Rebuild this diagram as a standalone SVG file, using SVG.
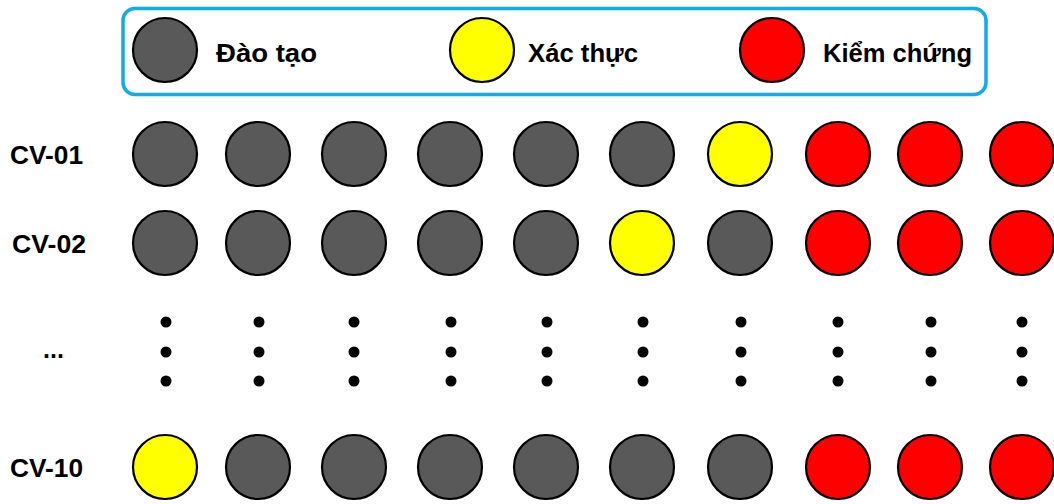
<svg xmlns="http://www.w3.org/2000/svg" width="1054" height="504" viewBox="0 0 1054 504">
<style>
.c{stroke:#000;stroke-width:2.2}
.g{fill:#595959}
.y{fill:#FFFF00}
.r{fill:#FF0000}
.d{fill:#000}
.t{font-family:"Liberation Sans",Arial,sans-serif;font-weight:bold;font-size:25px;fill:#000}
</style>
<rect width="1054" height="504" fill="#fff"/>
<g id="legend">
<rect x="123" y="8.5" width="863" height="86" rx="12" fill="#fff" stroke="#12ABE9" stroke-width="3.5"/>
<circle class="c g" cx="165" cy="50" r="32"/>
<text class="t" x="216" y="62" textLength="101" lengthAdjust="spacingAndGlyphs">Đào tạo</text>
<circle class="c y" cx="482" cy="50" r="32"/>
<text class="t" x="528" y="62" textLength="110" lengthAdjust="spacingAndGlyphs">Xác thực</text>
<circle class="c r" cx="772" cy="50" r="32"/>
<text class="t" x="823" y="62" textLength="149" lengthAdjust="spacingAndGlyphs">Kiểm chứng</text>
</g>
<g id="row-cv01">
<text class="t" x="10" y="164" textLength="73" lengthAdjust="spacingAndGlyphs">CV-01</text>
<circle class="c g" cx="165" cy="154" r="32"/>
<circle class="c g" cx="258" cy="154" r="32"/>
<circle class="c g" cx="354" cy="154" r="32"/>
<circle class="c g" cx="450" cy="154" r="32"/>
<circle class="c g" cx="546" cy="154" r="32"/>
<circle class="c g" cx="642" cy="154" r="32"/>
<circle class="c y" cx="740" cy="154" r="32"/>
<circle class="c r" cx="838" cy="154" r="32"/>
<circle class="c r" cx="930" cy="154" r="32"/>
<circle class="c r" cx="1022" cy="154" r="32"/>
</g>
<g id="row-cv02">
<text class="t" x="12" y="253" textLength="74" lengthAdjust="spacingAndGlyphs">CV-02</text>
<circle class="c g" cx="165" cy="243" r="32"/>
<circle class="c g" cx="258" cy="243" r="32"/>
<circle class="c g" cx="354" cy="243" r="32"/>
<circle class="c g" cx="450" cy="243" r="32"/>
<circle class="c g" cx="546" cy="243" r="32"/>
<circle class="c y" cx="642" cy="243" r="32"/>
<circle class="c g" cx="740" cy="243" r="32"/>
<circle class="c r" cx="838" cy="243" r="32"/>
<circle class="c r" cx="930" cy="243" r="32"/>
<circle class="c r" cx="1022" cy="243" r="32"/>
</g>
<g id="row-ellipsis">
<text class="t" x="43" y="358" font-size="20">...</text>
<g class="d">
<circle cx="166" cy="322" r="5.5"/><circle cx="166" cy="352" r="5.5"/><circle cx="166" cy="381" r="5.5"/>
<circle cx="259" cy="322" r="5.5"/><circle cx="259" cy="352" r="5.5"/><circle cx="259" cy="381" r="5.5"/>
<circle cx="354" cy="322" r="5.5"/><circle cx="354" cy="352" r="5.5"/><circle cx="354" cy="381" r="5.5"/>
<circle cx="451" cy="322" r="5.5"/><circle cx="451" cy="352" r="5.5"/><circle cx="451" cy="381" r="5.5"/>
<circle cx="547" cy="322" r="5.5"/><circle cx="547" cy="352" r="5.5"/><circle cx="547" cy="381" r="5.5"/>
<circle cx="643" cy="322" r="5.5"/><circle cx="643" cy="352" r="5.5"/><circle cx="643" cy="381" r="5.5"/>
<circle cx="741" cy="322" r="5.5"/><circle cx="741" cy="352" r="5.5"/><circle cx="741" cy="381" r="5.5"/>
<circle cx="838" cy="322" r="5.5"/><circle cx="838" cy="352" r="5.5"/><circle cx="838" cy="381" r="5.5"/>
<circle cx="931" cy="322" r="5.5"/><circle cx="931" cy="352" r="5.5"/><circle cx="931" cy="381" r="5.5"/>
<circle cx="1022" cy="322" r="5.5"/><circle cx="1022" cy="352" r="5.5"/><circle cx="1022" cy="381" r="5.5"/>
</g>
</g>
<g id="row-cv10">
<text class="t" x="10" y="477" textLength="73" lengthAdjust="spacingAndGlyphs">CV-10</text>
<circle class="c y" cx="165" cy="467" r="32"/>
<circle class="c g" cx="258" cy="467" r="32"/>
<circle class="c g" cx="354" cy="467" r="32"/>
<circle class="c g" cx="450" cy="467" r="32"/>
<circle class="c g" cx="546" cy="467" r="32"/>
<circle class="c g" cx="642" cy="467" r="32"/>
<circle class="c g" cx="740" cy="467" r="32"/>
<circle class="c r" cx="838" cy="467" r="32"/>
<circle class="c r" cx="930" cy="467" r="32"/>
<circle class="c r" cx="1022" cy="467" r="32"/>
</g>
<g id="connectors"/>
</svg>
